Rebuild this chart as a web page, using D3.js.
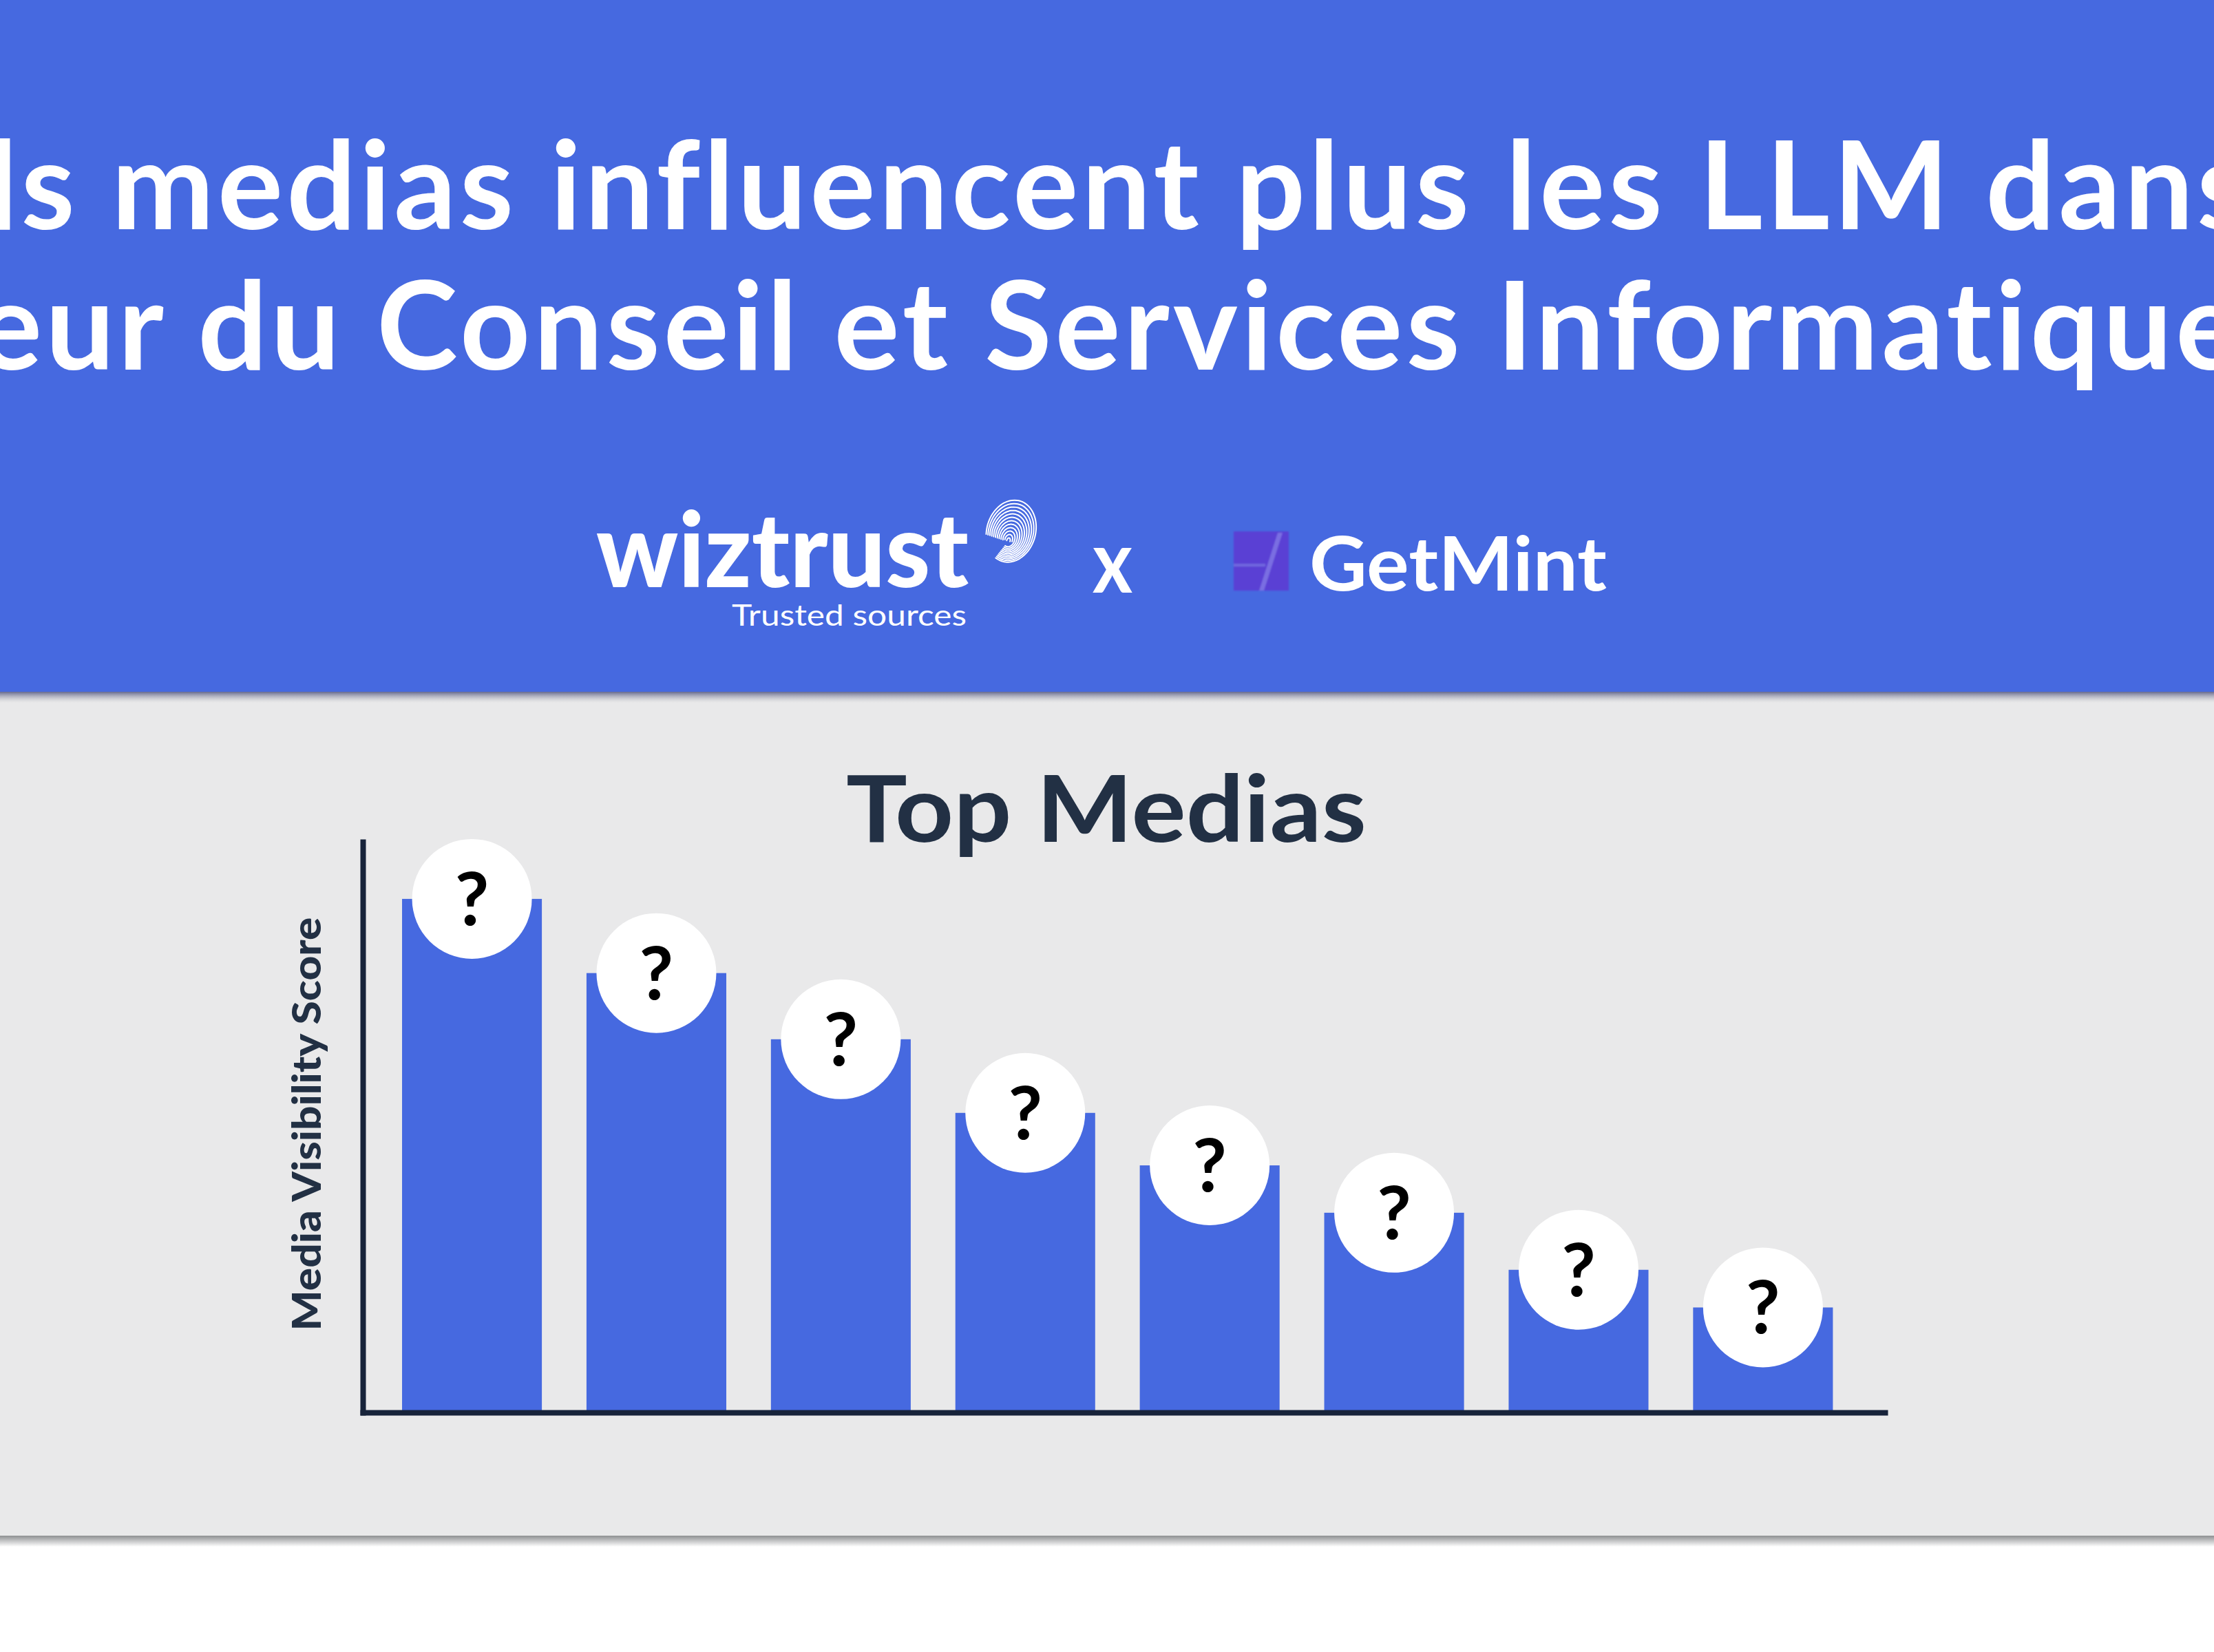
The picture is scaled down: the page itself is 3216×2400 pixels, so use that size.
<!DOCTYPE html>
<html>
<head>
<meta charset="utf-8">
<script src="https://cdn.jsdelivr.net/npm/d3@7"></script>
<style>
  html, body { margin: 0; padding: 0; background: #fff; }
  svg { display: block; font-family: Lato, "Open Sans", sans-serif; }
</style>
</head>
<body>
<svg id="chart" width="3216" height="2400"></svg>
<script>
// data
const titleLines = ["Quels medias influencent plus les LLM dans le", "secteur du Conseil et Services Informatiques ?"];
const chartTitle = "Top Medias";
const yAxisLabel = "Media Visibility Score";
const categories = ["Media 1", "Media 2", "Media 3", "Media 4", "Media 5", "Media 6", "Media 7", "Media 8"];
const scores = [90, 77, 65.4, 52.5, 43.3, 35, 25, 18.4];
const pointLabels = ["?", "?", "?", "?", "?", "?", "?", "?"];

const W = 3216, H = 2400;
const blue = "#4669e0", navy = "#223044";

const svg = d3.select("#chart");
const defs = svg.append("defs");

let g1 = defs.append("linearGradient").attr("id", "hdrShadow").attr("x1", 0).attr("y1", 0).attr("x2", 0).attr("y2", 1);
g1.append("stop").attr("offset", 0).attr("stop-color", "#3a3f70").attr("stop-opacity", 0.75);
g1.append("stop").attr("offset", 1).attr("stop-color", "#b0b0b8").attr("stop-opacity", 0);

let g2 = defs.append("linearGradient").attr("id", "botShadow").attr("x1", 0).attr("y1", 0).attr("x2", 0).attr("y2", 1);
g2.append("stop").attr("offset", 0).attr("stop-color", "#8e9092");
g2.append("stop").attr("offset", 1).attr("stop-color", "#ffffff");

defs.append("filter").attr("id", "soft").append("feGaussianBlur").attr("stdDeviation", 1.2);

// backgrounds
svg.append("rect").attr("width", W).attr("height", H).attr("fill", "#ffffff");
svg.append("rect").attr("y", 1005).attr("width", W).attr("height", 1228).attr("fill", "#e9e9ea");
svg.append("rect").attr("y", 2231).attr("width", W).attr("height", 16).attr("fill", "url(#botShadow)");
svg.append("rect").attr("width", W).attr("height", 1005).attr("fill", blue);
svg.append("rect").attr("y", 1005).attr("width", W).attr("height", 16).attr("fill", "url(#hdrShadow)");

// header title (runs past both edges, as in the picture)
svg.append("g").selectAll("text").data(titleLines).join("text")
    .attr("x", 1550)
    .attr("y", (d, i) => 333 + i * 204)
    .attr("text-anchor", "middle")
    .attr("fill", "#ffffff")
    .attr("font-weight", 700)
    .attr("font-size", 178)
    .attr("letter-spacing", 5)
    .text(d => d);

// logos
const logos = svg.append("g");
logos.append("text")
    .attr("x", 866).attr("y", 853)
    .attr("fill", "#fff").attr("font-weight", 900).attr("font-size", 150)
    .attr("textLength", 541).attr("lengthAdjust", "spacingAndGlyphs")
    .text("wiztrust");
logos.append("text")
    .attr("x", 1063).attr("y", 909)
    .attr("fill", "#fff").attr("font-weight", 400).attr("font-size", 42)
    .attr("textLength", 341).attr("lengthAdjust", "spacingAndGlyphs")
    .text("Trusted sources");

// fingerprint mark: nested ovals open at the lower left
const fp = logos.append("g").attr("transform", "translate(1469,771) rotate(16)")
    .attr("fill", "none").attr("stroke", "#fff").attr("stroke-width", 2).attr("stroke-linecap", "round");
const ring = d3.line().curve(d3.curveBasis);
d3.range(12).forEach(i => {
  const rx = 2.5 + i * 3, ry = 4 + i * 3.8, cy = 15 - i * 1.3;
  const a0 = i < 2 ? -Math.PI * 0.05 : Math.PI * 1.4, a1 = i < 2 ? Math.PI * 1.05 : Math.PI * 3.1;
  const pts = d3.range(0, 49).map(k => {
    const a = a0 + (a1 - a0) * k / 48;
    return [rx * Math.cos(a), cy - ry * Math.sin(a)];
  });
  fp.append("path").attr("d", ring(pts));
});

logos.append("text")
    .attr("x", 1616).attr("y", 861)
    .attr("text-anchor", "middle")
    .attr("fill", "#fff").attr("font-weight", 700).attr("font-size", 126)
    .attr("textLength", 58).attr("lengthAdjust", "spacingAndGlyphs")
    .text("x");

const gm = logos.append("g").attr("filter", "url(#soft)");
gm.append("rect").attr("x", 1792).attr("y", 772).attr("width", 80).attr("height", 86).attr("fill", "#5a40d4");
gm.append("path").attr("d", "M1856,774 L1863,774 L1836,858 L1829,858 Z").attr("fill", "#7a6ee2");
gm.append("rect").attr("x", 1792).attr("y", 819).attr("width", 46).attr("height", 4).attr("fill", "#6f66de");

logos.append("text")
    .attr("x", 1902).attr("y", 858)
    .attr("fill", "#fff").attr("font-weight", 700).attr("font-size", 110)
    .attr("textLength", 432).attr("lengthAdjust", "spacingAndGlyphs")
    .text("GetMint");

// chart
const x = d3.scaleBand().domain(categories).range([527, 2738])
    .paddingInner(0.242).paddingOuter(0.2475).align(0.43);
const y = d3.scaleLinear().domain([0, 100]).range([2052, 1223]);

svg.append("text")
    .attr("x", 1607).attr("y", 1223)
    .attr("text-anchor", "middle")
    .attr("fill", navy).attr("font-weight", 700).attr("font-size", 134)
    .attr("textLength", 756).attr("lengthAdjust", "spacingAndGlyphs")
    .text(chartTitle);

svg.append("text")
    .attr("transform", "translate(466,1633) rotate(-90)")
    .attr("text-anchor", "middle")
    .attr("fill", navy).attr("font-weight", 900).attr("font-size", 57)
    .attr("textLength", 601).attr("lengthAdjust", "spacingAndGlyphs")
    .text(yAxisLabel);

const rows = categories.map((c, i) => ({ c, v: scores[i], label: pointLabels[i] }));

svg.append("g").selectAll("rect").data(rows).join("rect")
    .attr("x", d => x(d.c))
    .attr("y", d => y(d.v))
    .attr("width", x.bandwidth())
    .attr("height", d => y(0) - y(d.v))
    .attr("fill", blue);

const axisStyle = g => g.select(".domain")
    .attr("stroke", "#17233a").attr("stroke-width", 8).attr("stroke-linecap", "square");

svg.append("g").attr("transform", `translate(0,${y(0)})`)
    .call(d3.axisBottom(x).tickValues([]).tickSizeOuter(0))
    .call(axisStyle);
svg.append("g").attr("transform", `translate(${x.range()[0]},0)`)
    .call(d3.axisLeft(y).tickValues([]).tickSizeOuter(0))
    .call(axisStyle);

const badges = svg.append("g").selectAll("g").data(rows).join("g")
    .attr("transform", d => `translate(${x(d.c) + x.bandwidth() / 2},${y(d.v)})`);
badges.append("circle").attr("r", 87).attr("fill", "#ffffff");
badges.append("text")
    .attr("y", 38)
    .attr("text-anchor", "middle")
    .attr("fill", "#000").attr("font-weight", 700).attr("font-size", 108)
    .text(d => d.label);
</script>
</body>
</html>
